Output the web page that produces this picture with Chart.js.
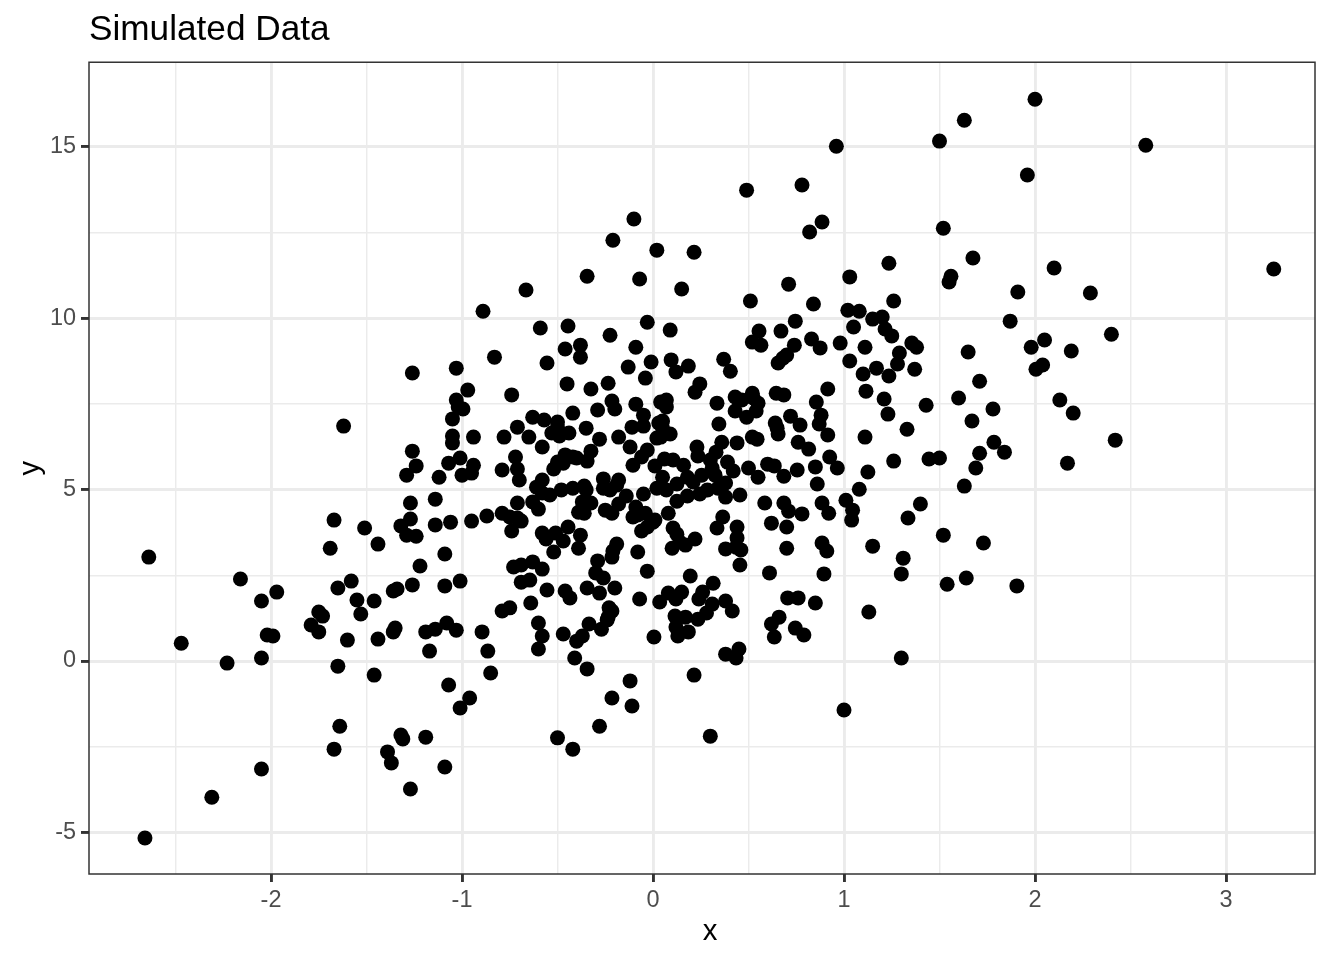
<!DOCTYPE html>
<html>
<head>
<meta charset="utf-8">
<title>Simulated Data</title>
<script src="https://cdn.jsdelivr.net/npm/chart.js@4"></script>
<style>
    html, body { margin: 0; padding: 0; background: #fff; }
    #wrap { width: 1344px; height: 960px; }
</style>
</head>
<body>
<div id="wrap"><canvas id="scatterChart"></canvas></div>
<script>
// Values, same order in both arrays
const xValues = [
    -2.64,-2.66,-2.47,-2.31,-2.23,-2.16,-2.05,-2.05,-2.05,-2.02,
    -1.99,-1.97,-1.79,-1.75,-1.73,-1.75,-1.69,-1.67,-1.65,-1.65,
    -1.67,-1.64,-1.62,-1.60,-1.58,-1.55,-1.53,-1.51,-1.46,-1.46,
    -1.44,-1.44,-1.39,-1.36,-1.34,-1.35,-1.36,-1.37,-1.32,-1.31,
    -1.32,-1.29,-1.26,-1.27,-1.22,-1.24,-1.26,-1.26,-1.24,-1.29,
    -1.27,-1.27,-1.19,-1.17,-1.19,-1.14,-1.14,-1.14,-1.12,-1.09,
    -1.09,-1.08,-1.09,-1.07,-1.06,-1.07,-1.05,-1.05,-1.05,-1.03,
    -1.01,-1.01,-1.01,-1.03,-.97,-1.03,-.995,-1.02,-.94,-.94,
    -.95,-1.00,-.95,-.96,-.895,-.865,-.85,-.89,-.83,-.87,
    -.78,-.79,-.79,-.79,-.75,-.74,-.74,-.75,-.73,-.72,
    -.71,-.71,-.70,-.71,-.71,-.70,-.69,-.69,-.69,-.665,
    -.65,-.645,-.64,-.63,-.63,-.63,-.61,-.60,-.60,-.60,
    -.59,-.58,-.58,-.58,-.58,-.58,-.58,-.57,-.56,-.555,
    -.555,-.54,-.53,-.52,-.52,-.51,-.50,-.50,-.50,-.50,
    -.49,-.48,-.47,-.47,-.47,-.46,-.46,-.46,-.45,-.445,
    -.445,-.44,-.435,-.42,-.42,-.42,-.42,-.41,-.40,-.40,
    -.39,-.39,-.38,-.38,-.38,-.37,-.37,-.36,-.36,-.35,
    -.35,-.345,-.345,-.345,-.345,-.335,-.325,-.325,-.325,-.29,
    -.29,-.30,-.28,-.28,-.28,-.27,-.26,-.26,-.26,-.25,
    -.24,-.235,-.235,-.23,-.225,-.225,-.215,-.215,-.215,-.215,
    -.215,-.21,-.21,-.20,-.20,-.19,-.19,-.18,-.18,-.18,
    -.14,-.13,-.12,-.12,-.11,-.11,-.105,-.105,-.10,-.09,
    -.09,-.09,-.08,-.08,-.07,-.07,-.06,-.06,-.05,-.05,
    -.05,-.04,-.04,-.03,-.03,-.03,-.03,-.01,.01,.01,
    0,.005,.02,.02,.02,.03,.035,.04,.04,.05,
    .05,.05,.06,.07,.07,.07,.08,.08,.09,.09,
    .095,.10,.105,.105,.115,.12,.12,.12,.125,.125,
    .125,.13,.14,.15,.15,.16,.17,.17,.18,.18,
    .185,.185,.195,.21,.215,.215,.22,.22,.23,.235,
    .235,.24,.245,.245,.255,.26,.28,.285,.30,.30,
    .31,.31,.315,.325,.33,.335,.335,.34,.345,.36,
    .365,.37,.38,.38,.38,.38,.38,.39,.405,.415,
    .42,.43,.43,.435,.435,.44,.44,.44,.45,.455,
    .455,.46,.465,.49,.49,.50,.51,.52,.52,.52,
    .525,.54,.545,.55,.55,.555,.565,.585,.60,.61,
    .62,.62,.635,.635,.64,.645,.65,.655,.655,.66,
    .67,.68,.685,.685,.685,.70,.70,.70,.705,.71,
    .71,.72,.74,.745,.745,.755,.76,.76,.77,.78,
    .78,.79,.815,.82,.83,.84,.85,.85,.855,.86,
    .87,.875,.88,.885,.885,.885,.895,.91,.915,.915,
    .92,.925,.96,.965,.98,1.00,1.01,1.02,1.03,1.03,
    1.04,1.045,1.05,1.08,1.08,1.10,1.11,1.11,1.115,1.125,
    1.13,1.15,1.15,1.17,1.20,1.21,1.215,1.23,1.235,1.235,
    1.25,1.26,1.26,1.28,1.29,1.30,1.30,1.31,1.33,1.335,
    1.355,1.37,1.38,1.40,1.43,1.445,1.50,1.50,1.52,1.52,
    1.54,1.55,1.56,1.60,1.63,1.63,1.64,1.65,1.67,1.675,
    1.69,1.71,1.71,1.73,1.78,1.785,1.84,1.87,1.905,1.91,
    1.96,1.98,2.00,2.005,2.04,2.05,2.10,2.13,2.17,2.19,
    2.20,2.29,2.40,2.42,2.58,3.25
];
const yValues = [
    3.03,-5.16,.52,-3.97,-.06,2.39,1.75,.09,-3.15,.76,
    .73,2.01,1.05,1.43,1.31,.85,3.29,4.11,2.13,-.15,
    -2.57,-1.90,6.85,.61,2.33,1.78,1.37,3.88,1.75,-.41,
    3.41,.64,-2.65,2.04,2.10,.96,.85,-2.97,-2.16,-2.27,
    3.94,3.67,2.22,-3.73,2.77,3.64,8.40,6.12,5.69,5.42,
    4.61,4.14,.85,.29,-2.22,.93,4.72,3.97,5.36,3.12,
    2.19,1.11,-3.09,-.70,4.05,5.77,6.56,6.36,7.06,.90,
    5.92,-1.37,2.33,8.54,7.90,7.61,7.35,7.41,6.53,5.71,
    5.48,5.42,4.08,-1.08,.85,.29,-.35,10.20,8.86,4.23,
    6.53,5.57,4.31,1.46,1.55,7.76,3.79,4.20,2.74,5.95,
    6.82,5.60,5.28,4.61,4.17,4.11,4.08,2.80,2.30,10.82,
    6.53,2.36,1.69,7.11,2.89,4.64,5.07,4.43,1.11,.35,
    9.71,6.24,5.28,4.90,3.73,2.68,.73,7.03,3.56,8.69,
    2.07,4.84,6.65,5.60,3.18,3.73,6.97,6.82,5.80,-2.24,
    6.56,4.99,5.77,3.50,.79,9.10,6.01,2.04,8.08,9.77,
    3.91,6.65,1.84,7.23,5.95,5.04,-2.57,.09,5.92,.58,
    4.34,3.29,9.21,8.86,3.67,4.64,.73,5.10,4.31,6.79,
    4.99,11.22,5.83,2.13,-.23,1.08,7.93,6.12,4.61,7.32,
    2.92,2.57,6.47,1.98,-1.90,.93,5.31,5.04,2.42,4.40,
    1.20,8.10,1.28,1.55,9.50,4.99,7.58,4.31,3.03,1.46,
    -1.08,12.27,3.21,7.35,2.13,5.13,3.41,6.53,5.28,4.58,
    4.81,8.57,6.24,-.58,6.82,-1.31,5.71,4.20,12.89,9.15,
    7.49,4.49,4.26,3.18,11.14,1.81,5.95,3.79,7.17,6.85,
    4.87,8.25,4.31,9.88,6.15,3.91,2.62,8.72,5.69,4.11,
    4.05,.70,11.98,6.50,5.04,6.94,1.72,7.55,6.53,7.00,
    6.79,5.36,5.89,7.61,7.41,4.99,4.31,1.98,9.65,6.62,
    8.78,3.29,5.86,3.88,1.31,8.43,1.81,.99,4.66,5.16,
    3.70,.73,3.47,10.85,2.01,5.71,3.38,1.28,4.81,5.36,
    8.60,.85,2.48,5.22,11.92,-.41,7.84,3.56,6.24,5.98,
    1.22,1.81,8.08,4.87,5.42,2.01,1.40,4.99,5.86,-2.19,
    5.63,1.66,2.27,5.42,6.09,7.52,3.88,5.04,6.91,6.38,
    4.20,8.80,5.19,4.78,3.27,1.75,.20,5.80,8.45,1.46,
    5.54,7.70,7.29,3.32,.09,6.36,3.91,3.59,.35,4.84,
    2.80,3.24,7.61,13.73,7.11,5.63,10.50,9.30,7.81,6.53,
    7.67,7.29,6.47,7.52,5.36,9.62,9.21,4.61,5.74,2.57,
    4.02,1.08,5.69,.70,6.94,7.81,6.79,6.62,8.69,1.28,
    9.62,8.83,7.76,5.39,4.61,8.92,3.91,3.29,1.84,10.99,
    4.37,7.14,9.21,9.91,.96,5.57,6.38,1.84,6.88,13.88,
    4.29,.76,6.18,12.51,9.39,10.41,5.66,1.69,7.55,5.16,
    6.91,9.13,7.17,12.80,4.61,3.44,2.54,3.21,7.93,6.59,
    4.31,5.95,15.01,5.63,9.27,-1.43,4.69,10.23,11.20,8.75,
    4.11,4.40,9.74,10.20,5.01,8.37,9.15,6.53,7.87,5.51,
    1.43,9.97,3.35,8.54,10.03,7.64,9.68,7.20,11.60,8.31,
    9.48,10.50,5.83,8.66,8.98,2.54,.09,3.00,6.76,4.17,
    9.27,8.51,9.15,4.58,7.46,5.89,15.16,5.92,12.62,3.67,
    2.24,11.05,11.22,7.67,15.77,5.10,2.42,9.01,7.00,11.75,
    5.63,8.16,6.06,3.44,7.35,6.38,6.09,9.91,2.19,10.76,
    14.17,9.15,16.38,8.51,8.63,9.36,11.46,7.61,5.77,9.04,
    7.23,10.73,9.53,6.44,15.04,11.43
];

// Major ticks carry a label, the half steps are minor grid lines only
const xTickValues = [-2.5, -2, -1.5, -1, -0.5, 0, 0.5, 1, 1.5, 2, 2.5, 3];
const yTickValues = [-5, -2.5, 0, 2.5, 5, 7.5, 10, 12.5, 15];
const xMajor = [-2, -1, 0, 1, 2, 3];
const yMajor = [-5, 0, 5, 10, 15];

const panelBorder = {
    id: 'panelBorder',
    afterDraw(chart) {
        const { ctx, chartArea } = chart;
        ctx.save();
        ctx.strokeStyle = '#333333';
        ctx.lineWidth = 1.5;
        ctx.strokeRect(chartArea.left, chartArea.top, chartArea.width, chartArea.height);
        ctx.restore();
    }
};

function axisOptions(label, min, max, tickValues, major, size, labelGap) {
    const isMajor = ctx => ctx.tick && major.includes(ctx.tick.value);
    return {
        type: 'linear',
        min: min,
        max: max,
        afterBuildTicks(scale) {
            scale.ticks = tickValues.map(v => ({ value: v }));
        },
        afterFit(scale) {
            if (scale.isHorizontal()) {
                scale.height = size;
            } else {
                scale.width = size;
            }
        },
        title: {
            display: true,
            text: label,
            color: '#000000',
            font: { family: '"Liberation Sans"', size: 29.3 },
            padding: { top: 13, bottom: 11 }
        },
        grid: {
            color: '#ebebeb',
            lineWidth: ctx => (isMajor(ctx) ? 2.9 : 1.45),
            tickColor: ctx => (isMajor(ctx) ? '#333333' : 'rgba(0,0,0,0)'),
            tickWidth: 2.9,
            tickLength: 8,
            drawOnChartArea: true
        },
        border: { display: false },
        ticks: {
            autoSkip: false,
            maxRotation: 0,
            color: '#4d4d4d',
            padding: labelGap,
            font: { family: '"Liberation Sans"', size: 23.47 },
            callback: v => (major.includes(v) ? String(v) : '')
        }
    };
}

new Chart(document.getElementById('scatterChart'), {
    type: 'scatter',
    data: {
        datasets: [{
            data: xValues.map((x, i) => ({ x: x, y: yValues[i] })),
            backgroundColor: '#000000',
            borderWidth: 0,
            pointRadius: 7.5,
            pointHoverRadius: 7.5
        }]
    },
    options: {
        responsive: true,
        maintainAspectRatio: false,
        animation: false,
        layout: { padding: { top: 0, right: 29, bottom: 0, left: 0 } },
        plugins: {
            legend: { display: false },
            tooltip: { enabled: false },
            title: {
                display: true,
                text: 'Simulated Data',
                align: 'start',
                fullSize: false,
                color: '#000000',
                font: { family: '"Liberation Sans"', size: 35.2, weight: 'normal' },
                padding: { top: 9, bottom: 11 }
            }
        },
        scales: {
            // the no-break spaces push the x label a little right of centre, as in the source
            x: axisOptions('\u00a0\u00a0x', -2.953, 3.466, xTickValues, xMajor, 86, 4),
            y: axisOptions('y', -6.21, 17.46, yTickValues, yMajor, 89, 5)
        }
    },
    plugins: [panelBorder]
});
</script>
</body>
</html>
